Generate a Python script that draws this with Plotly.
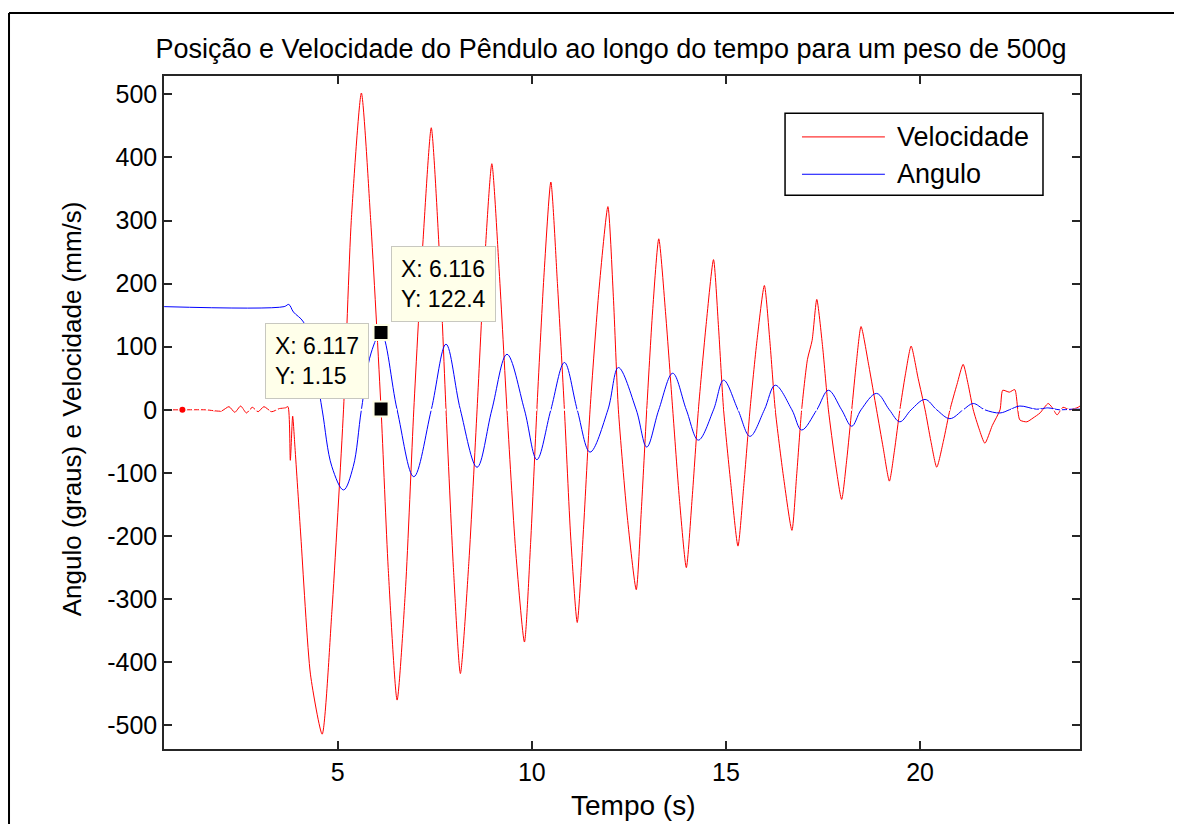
import plotly.graph_objects as go

# ---------------- data ----------------
# Velocity (mm/s) - red
vel_t = [0.53, 1.0, 1.6, 2.0, 2.2, 2.35, 2.5, 2.65, 2.8, 2.95, 3.1, 3.3, 3.5, 3.65,
         3.72, 3.78, 3.84, 3.9, 4.05, 4.3, 4.6, 4.85, 5.15, 5.35, 5.61, 5.85, 6.117,
         6.3, 6.53, 6.75, 6.96, 7.2, 7.41, 7.6, 7.79, 7.98, 8.16, 8.38, 8.59, 8.78,
         8.97, 9.16, 9.36, 9.58, 9.81, 9.97, 10.13, 10.31, 10.49, 10.66, 10.84,
         11.0, 11.17, 11.33, 11.5, 11.73, 11.96, 12.1, 12.23, 12.46, 12.69, 12.82,
         12.96, 13.11, 13.27, 13.45, 13.63, 13.8, 13.98, 14.13, 14.29, 14.49, 14.68,
         14.81, 14.94, 15.13, 15.31, 15.46, 15.62, 15.8, 15.99, 16.13, 16.27, 16.48,
         16.70, 16.82, 16.95, 17.1, 17.22, 17.34, 17.49, 17.64, 17.81, 17.98, 18.11,
         18.24, 18.36, 18.48, 18.68, 18.88, 19.05, 19.21, 19.34, 19.48, 19.62, 19.77,
         19.95, 20.13, 20.28, 20.43, 20.6, 20.77, 20.95, 21.11, 21.24, 21.37, 21.52,
         21.67, 21.86, 22.06, 22.13, 22.3, 22.44, 22.57, 22.75, 22.91, 23.09, 23.3,
         23.4, 23.53, 23.68, 23.86, 24.07, 24.12]
vel_v = [0, 0, 0, -2, 5, -4, 6, -5, 4, -3, 5, -3, 2, 3,
         5, -80, -10, -60, -200, -420, -514, -320, 0, 300, 502, 300, 1.15,
         -250, -460, -280, 0, 270, 447, 270, 0, -250, -418, -240, 0, 230,
         390, 220, 0, -220, -368, -210, 0, 210, 361, 200, 0,
         -200, -337, -190, 0, 190, 322, 180, 0, -170, -285, -160,
         0, 155, 271, 150, 0, -140, -250, -140, 0, 135, 238,
         130, 0, -120, -216, -120, 0, 110, 197, 110, 0, -105,
         -191, -105, 0, 80, 110, 175, 100, 0, -80, -142, -80,
         0, 75, 132, 70, 0, -60, -113, -65, 0, 55, 101,
         50, 0, -50, -91, -50, 0, 40, 72, 40, 0, -30,
         -53, -25, 0, 31, 28, 32, -16, -19, -13, -5, 10,
         4, -8, 4, 0, 4, 6]

# Angle (graus) - blue
ang_t = [0.53, 3.62, 3.74, 3.86, 4.12, 4.35, 4.6, 4.85, 5.15, 5.4, 5.61, 5.86, 6.116,
         6.53, 6.96, 7.41, 7.79, 8.16, 8.59, 8.97, 9.36, 9.81, 10.13, 10.49, 10.84,
         11.17, 11.5, 11.96, 12.23, 12.69, 12.96, 13.27, 13.63, 13.98, 14.29, 14.68,
         14.94, 15.31, 15.62, 15.99, 16.27, 16.70, 16.95, 17.34, 17.64, 17.98, 18.24,
         18.48, 18.88, 19.21, 19.48, 19.77, 20.13, 20.43, 20.77, 21.11, 21.37, 21.67,
         22.06, 22.3, 22.57, 23.0, 23.3, 23.6, 23.9, 24.12]
ang_v = [163.5, 163.5, 167, 155, 139, 90, 0, -90, -127, -90, 0, 90, 122.4,
         0, -106, 0, 104, 0, -91, 0, 88, 0, -79, 0, 75,
         0, -67, 0, 67, 0, -59, 0, 58, 0, -48, 0,
         47, 0, -42, 0, 39, 0, -32, 0, 31, 0, -26,
         0, 26, 0, -19, 0, 16.5, 0, -14, 0, 10, 0,
         -5, 0, 6, 1, 3, 0, 1, 1]

# Data tips
tip_x = [6.116, 6.117]
tip_y = [122.4, 1.15]
tip_text = ["X: 6.116<br>Y: 122.4", "X: 6.117<br>Y: 1.15"]

dot_x = [1.0]
dot_y = [0]

x_range = [0.526, 24.12]
y_range = [-537.5, 529]
x_ticks = [5, 10, 15, 20]
x_ticklabels = ["5", "10", "15", "20"]
y_ticks = [-500, -400, -300, -200, -100, 0, 100, 200, 300, 400, 500]
y_ticklabels = ["-500", "-400", "-300", "-200", "-100", "0",
                "100", "200", "300", "400", "500"]

title = "Posição e Velocidade do Pêndulo ao longo do tempo para um peso de 500g"
x_label = "Tempo (s)"
y_label = "Angulo (graus) e Velocidade (mm/s)"
legend_names = ["Velocidade", "Angulo"]
colors = ["#ff0000", "#0000ff"]

FONT = "Liberation Sans, Arial, sans-serif"
AX = "#262626"

fig = go.Figure()
fig.add_trace(go.Scatter(x=vel_t, y=vel_v, mode="lines", name=legend_names[0],
                         line=dict(color=colors[0], width=1, shape="spline", smoothing=0.6),
                         showlegend=False, hoverinfo="skip"))
fig.add_trace(go.Scatter(x=ang_t, y=ang_v, mode="lines", name=legend_names[1],
                         line=dict(color=colors[1], width=1, shape="spline", smoothing=1.0),
                         showlegend=False, hoverinfo="skip"))
# white dashed zero line (gaps seen on the curves at y=0)
fig.add_trace(go.Scatter(x=x_range, y=[0, 0], mode="lines",
                         line=dict(color="white", width=2, dash="2px,5px"),
                         showlegend=False, hoverinfo="skip"))
fig.add_trace(go.Scatter(x=dot_x, y=dot_y, mode="markers",
                         marker=dict(color=colors[0], size=6),
                         showlegend=False, hoverinfo="skip"))
fig.add_trace(go.Scatter(x=tip_x, y=tip_y, mode="markers",
                         marker=dict(symbol="square", color="black", size=15,
                                     line=dict(color="#ffffe6", width=2)),
                         showlegend=False, hoverinfo="skip"))

annotations = []
# data tip boxes
annotations.append(dict(x=tip_x[0], y=tip_y[0], xref="x", yref="y", text=tip_text[0],
                        showarrow=False, xanchor="left", yanchor="bottom",
                        xshift=10, yshift=11, align="left",
                        bgcolor="#ffffea", bordercolor="#c8c8c0", borderwidth=1, borderpad=9,
                        font=dict(family=FONT, size=23, color="black")))
annotations.append(dict(x=tip_x[1], y=tip_y[1], xref="x", yref="y", text=tip_text[1],
                        showarrow=False, xanchor="right", yanchor="bottom",
                        xshift=-12, yshift=10, align="left",
                        bgcolor="#ffffea", bordercolor="#c8c8c0", borderwidth=1, borderpad=9,
                        font=dict(family=FONT, size=23, color="black")))
# axis titles
annotations.append(dict(x=0.5125, y=-0.0837, xref="paper", yref="paper", text=x_label,
                        showarrow=False, xanchor="center", yanchor="middle",
                        font=dict(family=FONT, size=28, color="black")))
annotations.append(dict(x=-0.1004, y=0.5048, xref="paper", yref="paper", text=y_label,
                        showarrow=False, xanchor="center", yanchor="middle", textangle=-90,
                        font=dict(family=FONT, size=26, color="black")))
# legend texts
leg_y = [0.9095, 0.854]
for i in range(2):
    annotations.append(dict(x=0.798, y=leg_y[i], xref="paper", yref="paper",
                            text=legend_names[i], showarrow=False,
                            xanchor="left", yanchor="middle",
                            font=dict(family=FONT, size=27, color="black")))

shapes = []
# legend box and samples
shapes.append(dict(type="rect", xref="paper", yref="paper", x0=0.678, x1=0.9596,
                   y0=0.8228, y1=0.9446, line=dict(color="black", width=1.5),
                   fillcolor="white", layer="above"))
for i in range(2):
    shapes.append(dict(type="line", xref="paper", yref="paper", x0=0.6965, x1=0.787,
                       y0=leg_y[i], y1=leg_y[i], line=dict(color=colors[i], width=1),
                       layer="above"))
# outer figure frame (left and top edges visible)
shapes.append(dict(type="line", xref="paper", yref="paper", x0=-0.1692, x1=-0.1692,
                   y0=-0.2, y1=1.0937, line=dict(color="black", width=2)))
shapes.append(dict(type="line", xref="paper", yref="paper", x0=-0.1692, x1=1.2,
                   y0=1.0937, y1=1.0937, line=dict(color="black", width=2)))

axis_common = dict(showline=True, linecolor=AX, linewidth=1.5, mirror="ticks",
                   ticks="inside", ticklen=8, tickcolor=AX, tickwidth=1.5,
                   showgrid=False, zeroline=False,
                   tickfont=dict(family=FONT, size=25, color="black"))

# page has an 8px body margin, so the figure is offset by 8px
fig.update_layout(
    width=1166, height=816,
    margin=dict(l=156, r=94, t=68, b=75),
    paper_bgcolor="white", plot_bgcolor="white",
    title=dict(text=title, x=0.488, xref="paper", xanchor="center",
               y=1 - 41 / 816, yref="container", yanchor="middle",
               font=dict(family=FONT, size=27, color="black")),
    xaxis=dict(range=x_range, tickvals=x_ticks, ticktext=x_ticklabels, **axis_common),
    yaxis=dict(range=y_range, tickvals=y_ticks, ticktext=y_ticklabels, **axis_common),
    annotations=annotations, shapes=shapes,
)

fig.write_html("out.html", config={"displayModeBar": False})
